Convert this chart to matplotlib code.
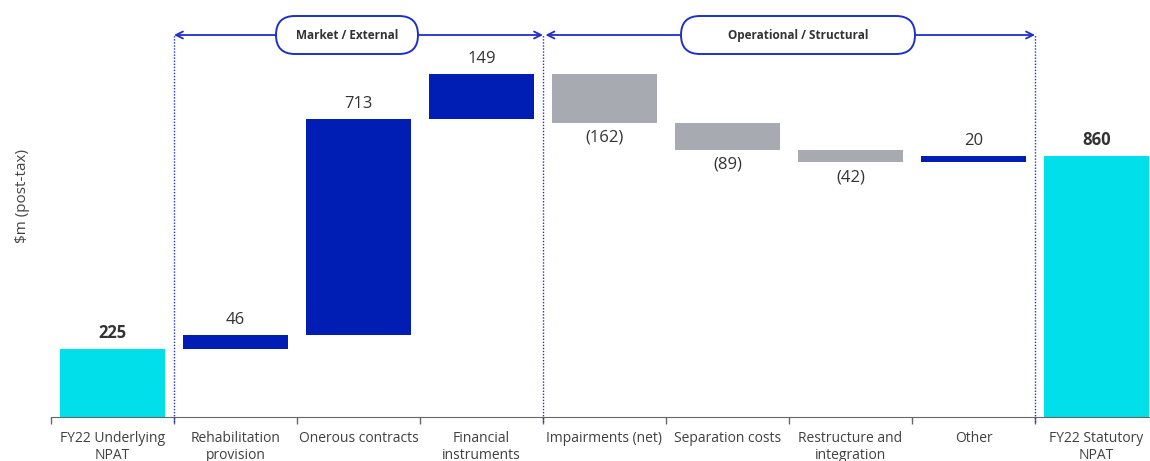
import matplotlib
matplotlib.use("Agg")
import matplotlib.pyplot as plt
from matplotlib.patches import FancyBboxPatch
from matplotlib.transforms import blended_transform_factory

plt.rcParams["font.family"] = ["Open Sans", "DejaVu Sans"]

categories = ["FY22 Underlying\nNPAT", "Rehabilitation\nprovision", "Onerous contracts",
              "Financial\ninstruments", "Impairments (net)", "Separation costs",
              "Restructure and\nintegration", "Other", "FY22 Statutory\nNPAT"]
values = [225, 46, 713, 149, -162, -89, -42, 20, 860]
is_total = [True, False, False, False, False, False, False, False, True]
labels = ["225", "46", "713", "149", "(162)", "(89)", "(42)", "20", "860"]

CYAN = "#00DFEA"
BLUE = "#001EB4"
GREY = "#A8AAB2"
TEXT = "#333333"
LINE = "#1F2FC8"

fig = plt.figure(figsize=(11.5, 4.61), dpi=100)
ax = fig.add_axes([51 / 1150, 44 / 461, 1107 / 1150, 417 / 461])

running = 0
for i, (v, tot, lab) in enumerate(zip(values, is_total, labels)):
    if tot:
        bottom, height, color = 0, v, CYAN
        running = v
    else:
        bottom = running if v >= 0 else running + v
        height = abs(v)
        color = BLUE if v >= 0 else GREY
        running += v
    ax.bar(i, height, bottom=bottom, width=0.85, color=color, zorder=2)
    if v >= 0 or tot:
        ax.annotate(lab, (i, bottom + height), xytext=(0, 5), textcoords="offset points",
                    ha="center", va="bottom", fontsize=12, color=TEXT,
                    fontweight="bold" if tot else "normal")
    else:
        ax.annotate(lab, (i, bottom), xytext=(0, -5), textcoords="offset points",
                    ha="center", va="top", fontsize=12, color=TEXT)

ax.set_xlim(-0.5, 8.5)
ax.set_ylim(0, 1376)
ax.set_xticks(range(len(categories)))
ax.set_xticklabels(categories, fontsize=10, color="#404040", linespacing=1.2)
ax.tick_params(axis="x", which="major", length=0, pad=10)
ax.set_xticks([k - 0.5 for k in range(len(categories))], minor=True)
ax.tick_params(axis="x", which="minor", length=5, color="#666666", width=1)
ax.set_yticks([])
for s in ["top", "right", "left"]:
    ax.spines[s].set_visible(False)
ax.spines["bottom"].set_color("#666666")
ax.set_ylabel("$m (post-tax)", fontsize=11, color="#444444")
ax.yaxis.set_label_coords(-0.019, 0.53)

# group brackets
trans = blended_transform_factory(ax.transData, ax.transAxes)
arrow_y = (417 - 35) / 417
for x in [0.5, 3.5, 7.5]:
    ax.plot([x, x], [-0.012, arrow_y], transform=trans, color=LINE, lw=1,
            ls=(0, (1, 1.2)), clip_on=False, zorder=3)
for x0, x1 in [(0.5, 3.5), (3.52, 7.5)]:
    ax.annotate("", xy=(x0, arrow_y), xytext=(x1, arrow_y), xycoords=trans, textcoords=trans,
                arrowprops=dict(arrowstyle="<->,head_length=0.5,head_width=0.25", color=LINE,
                                lw=1.3, shrinkA=0, shrinkB=0), annotation_clip=False)

for name, x0, x1 in [("Market / External", 2.76, 4.18), ("Operational / Structural", 6.81, 9.15)]:
    y0, y1 = 4.61 - 0.54, 4.61 - 0.16
    box = FancyBboxPatch((x0, y0), x1 - x0, y1 - y0, boxstyle="round,pad=0,rounding_size=0.19",
                         transform=fig.dpi_scale_trans, facecolor="white", edgecolor=LINE,
                         lw=1.4, zorder=5)
    fig.patches.append(box)
    fig.text((x0 + x1) / 2 / 11.5, (y0 + y1) / 2 / 4.61, name, ha="center", va="center",
             fontsize=8.5, fontweight="bold", color=TEXT, zorder=6)

fig.savefig("out.png", dpi=100)
